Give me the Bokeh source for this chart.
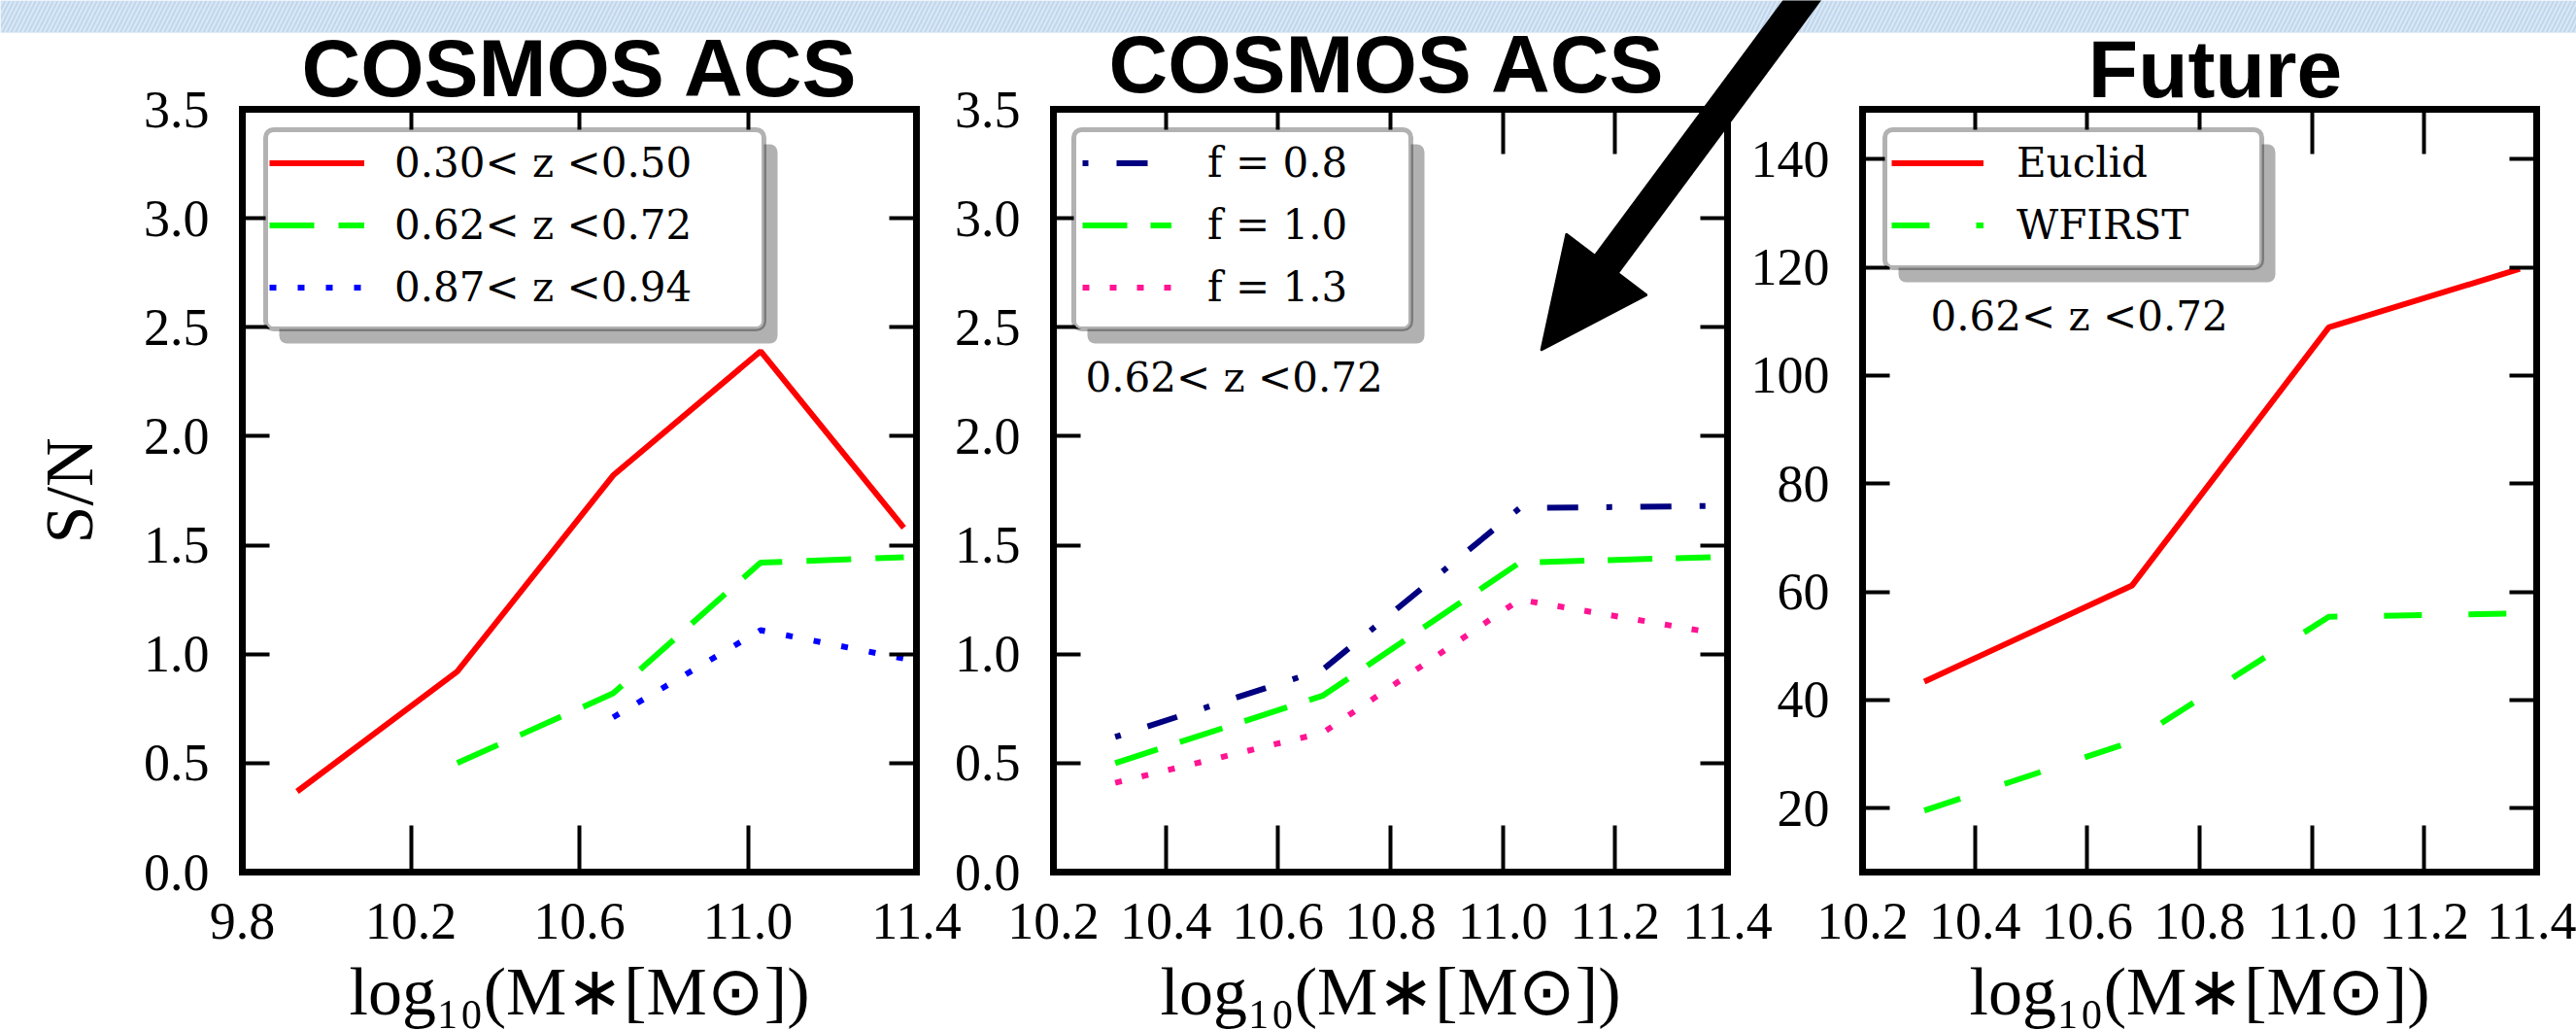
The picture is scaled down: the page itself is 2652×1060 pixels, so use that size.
from bokeh.plotting import figure
from bokeh.models import (Range1d, LinearAxis, FixedTicker, Legend, LegendItem,
                          Label, BoxAnnotation)
from bokeh.embed import file_html
from bokeh.resources import INLINE

# ---------------- data ----------------
# panel 1 : COSMOS ACS, three redshift bins
mass_z030_050 = [9.93, 10.31, 10.68, 11.03, 11.37]
sn_z030_050 = [0.37, 0.92, 1.82, 2.39, 1.58]
mass_z062_072 = [10.31, 10.68, 11.03, 11.37]
sn_z062_072 = [0.50, 0.82, 1.42, 1.445]
mass_z087_094 = [10.68, 11.03, 11.37]
sn_z087_094 = [0.71, 1.11, 0.98]

# panel 2 : COSMOS ACS, 0.62<z<0.72, scaling factor f
mass_f = [10.31, 10.68, 11.03, 11.37]
sn_f08 = [0.62, 0.93, 1.67, 1.68]
sn_f10 = [0.50, 0.81, 1.42, 1.445]
sn_f13 = [0.41, 0.64, 1.25, 1.10]

# panel 3 : Future surveys
mass_future = [10.31, 10.68, 11.03, 11.37]
sn_euclid = [43.4, 61.2, 108.9, 119.7]
sn_wfirst = [19.6, 32.3, 55.4, 56.0]

# ticks and texts
x_ticks_p1 = [9.8, 10.2, 10.6, 11.0, 11.4]
x_labels_p1 = ["9.8", "10.2", "10.6", "11.0", "11.4"]
x_ticks_p23 = [10.2, 10.4, 10.6, 10.8, 11.0, 11.2, 11.4]
x_labels_p23 = ["10.2", "10.4", "10.6", "10.8", "11.0", "11.2", "11.4"]
y_ticks_sn = [0.0, 0.5, 1.0, 1.5, 2.0, 2.5, 3.0, 3.5]
y_labels_sn = ["0.0", "0.5", "1.0", "1.5", "2.0", "2.5", "3.0", "3.5"]
y_ticks_future = [20, 40, 60, 80, 100, 120, 140]
y_labels_future = ["20", "40", "60", "80", "100", "120", "140"]
panel_titles = ["COSMOS ACS", "COSMOS ACS", "Future"]
legend_p1 = ["0.30< z <0.50", "0.62< z <0.72", "0.87< z <0.94"]
legend_p2 = ["f = 0.8", "f = 1.0", "f = 1.3"]
legend_p3 = ["Euclid", "WFIRST"]
note_text = "0.62< z <0.72"
x_title = "log\u2081\u2080(M\u2217[M\u2299])"
y_title = "S/N"

# ---------------- layout (screen pixels) ----------------
W, H = 2652, 1060
TOP, BOTTOM = 112, 897
PANELS = [
    dict(left=249, right=943, xlim=(9.8, 11.4), ylim=(0.0, 3.5),
         xt=x_ticks_p1, xl=x_labels_p1, yt=y_ticks_sn, yl=y_labels_sn),
    dict(left=1084, right=1778, xlim=(10.2, 11.4), ylim=(0.0, 3.5),
         xt=x_ticks_p23, xl=x_labels_p23, yt=y_ticks_sn, yl=y_labels_sn),
    dict(left=1917, right=2611, xlim=(10.2, 11.4), ylim=(8.2, 149.2),
         xt=x_ticks_p23, xl=x_labels_p23, yt=y_ticks_future, yl=y_labels_future),
]
SERIF = "Liberation Serif"
LEG_FONT = "DejaVu Serif"


def x_range_for(lo, hi, L, R):
    k = (hi - lo) / (R - L)
    return Range1d(lo - L * k, lo + (W - L) * k)


def y_range_for(lo, hi, T, B):
    k = (hi - lo) / (B - T)
    return Range1d(lo - (H - B) * k, lo + B * k)


p = figure(width=W, height=H, x_range=Range1d(0, W), y_range=Range1d(H, 0),
           x_axis_type=None, y_axis_type=None, output_backend="svg",
           toolbar_location=None, min_border=0, outline_line_color=None)
p.background_fill_color = "white"
p.border_fill_color = "white"

# top decorative band of the slide
p.quad(left=0, right=W, top=0, bottom=33, fill_color="#c0d6ec", line_color=None,
       hatch_pattern="/", hatch_color="#e1ecf7", hatch_alpha=0.8, hatch_scale=9,
       hatch_weight=2)


def style_axis(ax, tick_len, font_size="54px"):
    ax.axis_line_width = 7
    ax.axis_line_cap = "square"
    ax.major_tick_in = tick_len
    ax.major_tick_out = 0
    ax.major_tick_line_width = 4
    ax.minor_tick_line_color = None
    ax.major_label_text_font = SERIF
    ax.major_label_text_font_size = font_size
    ax.major_label_text_color = "black"
    ax.axis_label_text_font = SERIF
    ax.axis_label_text_font_style = "normal"
    ax.axis_label_text_font_size = "70px"
    ax.axis_label_text_color = "black"


for i, pn in enumerate(PANELS):
    xn, yn = f"x{i}", f"y{i}"
    p.extra_x_ranges[xn] = x_range_for(*pn["xlim"], pn["left"], pn["right"])
    p.extra_y_ranges[yn] = y_range_for(*pn["ylim"], TOP, BOTTOM)

    bottom = LinearAxis(x_range_name=xn, fixed_location=BOTTOM, bounds=pn["xlim"],
                        ticker=FixedTicker(ticks=pn["xt"]),
                        major_label_overrides=dict(zip(pn["xt"], pn["xl"])),
                        axis_label=x_title)
    style_axis(bottom, 48)
    bottom.major_label_standoff = 32
    bottom.axis_label_standoff = 13
    p.add_layout(bottom, "below")

    top = LinearAxis(x_range_name=xn, fixed_location=TOP, bounds=pn["xlim"],
                     ticker=FixedTicker(ticks=pn["xt"]),
                     major_label_overrides={t: "" for t in pn["xt"]})
    style_axis(top, 46)
    p.add_layout(top, "above")

    left = LinearAxis(y_range_name=yn, fixed_location=pn["left"], bounds=pn["ylim"],
                      ticker=FixedTicker(ticks=pn["yt"]),
                      major_label_overrides=dict(zip(pn["yt"], pn["yl"])),
                      axis_label=(y_title if i == 0 else None))
    style_axis(left, 28)
    left.major_label_standoff = 34
    left.axis_label_standoff = 35
    p.add_layout(left, "left")

    right = LinearAxis(y_range_name=yn, fixed_location=pn["right"], bounds=pn["ylim"],
                       ticker=FixedTicker(ticks=pn["yt"]),
                       major_label_overrides={t: "" for t in pn["yt"]})
    style_axis(right, 28)
    p.add_layout(right, "right")

# ---------------- data lines ----------------
r1 = p.line(mass_z030_050, sn_z030_050, x_range_name="x0", y_range_name="y0",
            line_color="#ff0000", line_width=6)
r2 = p.line(mass_z062_072, sn_z062_072, x_range_name="x0", y_range_name="y0",
            line_color="#00ff00", line_width=6, line_dash="46 25")
r3 = p.line(mass_z087_094, sn_z087_094, x_range_name="x0", y_range_name="y0",
            line_color="#0000ff", line_width=6, line_dash="7 22")

r4 = p.line(mass_f, sn_f08, x_range_name="x1", y_range_name="y1",
            line_color="#000080", line_width=6, line_dash="6 29 32 29")
r5 = p.line(mass_f, sn_f10, x_range_name="x1", y_range_name="y1",
            line_color="#00ff00", line_width=6, line_dash="46 24")
r6 = p.line(mass_f, sn_f13, x_range_name="x1", y_range_name="y1",
            line_color="#ff1493", line_width=6, line_dash="7 21")

r7 = p.line(mass_future, sn_euclid, x_range_name="x2", y_range_name="y2",
            line_color="#ff0000", line_width=6)
r8 = p.line(mass_future, sn_wfirst, x_range_name="x2", y_range_name="y2",
            line_color="#00ff00", line_width=6, line_dash="39 48")

# ---------------- arrow (slide decoration) ----------------
ARROW_SHAFT = ([1862, 1650], [-10, 276])
ARROW_HEAD = ([1586, 1612, 1695], [360, 240, 303])
p.line(*ARROW_SHAFT, line_color="black", line_width=32)
p.patch(*ARROW_HEAD, fill_color="black", line_color="black", line_width=2)

# ---------------- legend boxes ----------------
BOXES = [(273, 786, 133, 338), (1105, 1452, 133, 338), (1940, 2328, 133, 275)]
for (l, r, t, b) in BOXES:
    p.add_layout(BoxAnnotation(left=l + 14, right=r + 14, top=t + 15, bottom=b + 15,
                               fill_color="#a3a3a3", fill_alpha=0.85, line_alpha=0,
                               border_radius=8))
    p.add_layout(BoxAnnotation(left=l, right=r, top=t, bottom=b,
                               fill_color="white", fill_alpha=1.0, line_color="black",
                               line_width=5, border_radius=8))

ROW_H, ROW_GAP, PAD = 55, 9, 10


def make_legend(labels, renderers, x, top_row_center, glyph_w, standoff):
    n = len(labels)
    height = 2 * PAD + n * ROW_H + (n - 1) * ROW_GAP
    top = top_row_center - ROW_H / 2 - PAD
    lg = Legend(items=[LegendItem(label=lb, renderers=[rr]) for lb, rr in zip(labels, renderers)],
                location=(x - PAD, H - (top + height)), orientation="vertical",
                glyph_width=glyph_w, glyph_height=ROW_H, label_height=ROW_H,
                label_standoff=standoff, spacing=ROW_GAP, padding=PAD, margin=0,
                background_fill_alpha=0, border_line_color=None,
                label_text_font=LEG_FONT, label_text_font_size="42px",
                label_text_color="black")
    p.add_layout(lg)


make_legend(legend_p1, [r1, r2, r3], 287, 157, 98, 31)
make_legend(legend_p2, [r4, r5, r6], 1124, 157, 92, 37)
make_legend(legend_p3, [r7, r8], 1957, 157, 95, 34)

# ---------------- texts ----------------
TITLE_POS = [(597, 69), (1428, 65), (2280, 70)]
for txt, (tx, ty) in zip(panel_titles, TITLE_POS):
    p.add_layout(Label(x=tx, y=ty, text=txt, text_align="center",
                       text_baseline="middle", text_font="Liberation Sans",
                       text_font_style="bold", text_font_size="84px",
                       text_color="black"))

for (nx, ny) in [(1117, 388), (1987, 325)]:
    p.add_layout(Label(x=nx, y=ny, text=note_text, text_align="left",
                       text_baseline="middle", text_font=LEG_FONT,
                       text_font_size="42px", text_color="black"))

open("out.html", "w").write(file_html(p, INLINE))
